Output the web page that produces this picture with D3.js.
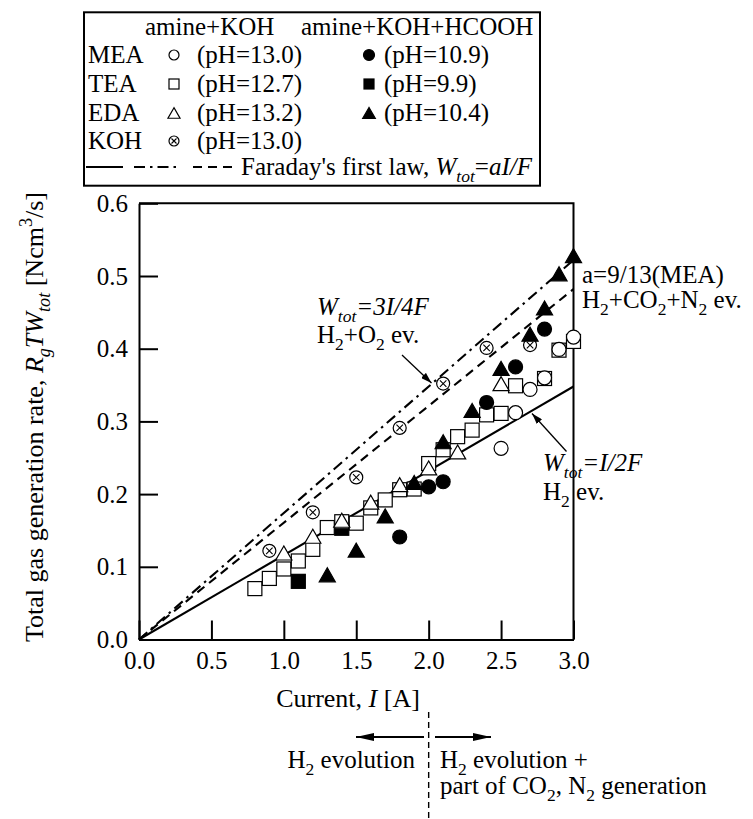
<!DOCTYPE html>
<html>
<head>
<meta charset="utf-8">
<script src="https://cdn.jsdelivr.net/npm/d3@7"></script>
<style>
  html, body { margin: 0; padding: 0; background: #fff; }
  svg text { font-family: "Liberation Serif", "Times New Roman", serif; fill: #000; }
</style>
</head>
<body>
<svg id="chart" width="753" height="819"></svg>
<script>
// Total gas generation rate R_g T W_tot [Ncm^3/s] against current I [A]

// amine + KOH
const meaKOH = [[2.5,0.263],[2.6,0.312],[2.7,0.344],[2.8,0.360],[2.9,0.399],[3.0,0.416]];
const teaKOH = [[0.8,0.070],[0.9,0.084],[1.0,0.097],[1.1,0.108],[1.2,0.124],[1.3,0.154],
                [1.4,0.162],[1.5,0.160],[1.6,0.181],[1.7,0.192],[1.8,0.206],[1.9,0.207],
                [2.0,0.242],[2.1,0.261],[2.2,0.279],[2.3,0.288],[2.4,0.309],[2.5,0.311],
                [2.6,0.349],[2.8,0.359],[2.9,0.398],[3.0,0.410]];
const edaKOH = [[1.0,0.119],[1.2,0.142],[1.4,0.164],[1.6,0.189],[1.8,0.213],[2.0,0.236],
                [2.2,0.258],[2.5,0.352]];
const kohOnly = [[0.9,0.122],[1.2,0.175],[1.5,0.223],[1.8,0.291],[2.1,0.352],[2.4,0.401],[2.7,0.405]];

// amine + KOH + HCOOH
const meaHCOOH = [[1.8,0.141],[2.0,0.210],[2.1,0.217],[2.4,0.326],[2.6,0.375],[2.8,0.427]];
const teaHCOOH = [[1.1,0.080],[1.4,0.153]];
const edaHCOOH = [[1.3,0.089],[1.5,0.123],[1.7,0.170],[1.9,0.216],[2.1,0.272],[2.3,0.315],
                  [2.5,0.373],[2.7,0.420],[2.8,0.456],[2.9,0.503],[3.0,0.528]];

// Faraday's first law lines: value reached at I = 3.0 A
const lawNames = ["I/2F", "9I/13F", "3I/4F"];
const lawEndValues = [0.348, 0.482, 0.522];
const lawDashes = [null, "9,6", "11,5,2.5,5"];

// Axis ticks
const xTicks = [0.0, 0.5, 1.0, 1.5, 2.0, 2.5, 3.0];
const yTicks = [0.0, 0.1, 0.2, 0.3, 0.4, 0.5, 0.6];

// Legend text
const legendHeaders = ["amine+KOH", "amine+KOH+HCOOH"];
const legendNames = ["MEA", "TEA", "EDA", "KOH"];
const legendPHOpen = ["(pH=13.0)", "(pH=12.7)", "(pH=13.2)", "(pH=13.0)"];
const legendPHFilled = ["(pH=10.9)", "(pH=9.9)", "(pH=10.4)", null];

const FS = 25;
const svg = d3.select("#chart");

const x = d3.scaleLinear().domain([0, 3]).range([139, 573.5]);
const y = d3.scaleLinear().domain([0, 0.6]).range([639.5, 203.3]);

// text with italic / subscript / superscript runs
function rich(sel, parts, fs) {
  let shift = 0;
  parts.forEach(p => {
    const ts = sel.append("tspan").text(p.t);
    const target = p.sub ? fs * 0.28 : (p.sup ? -fs * 0.42 : 0);
    if (target !== shift) { ts.attr("dy", target - shift); shift = target; }
    if (p.sub || p.sup) ts.attr("font-size", fs * 0.7);
    if (p.i) ts.attr("font-style", "italic");
  });
  return sel;
}

// marker shapes
function drawMark(g, type, cx, cy, s) {
  const sw = 1.2;
  if (type === "circle" || type === "circleF") {
    g.append("circle").attr("cx", cx).attr("cy", cy).attr("r", s / 2)
      .attr("fill", type === "circleF" ? "#000" : "#fff").attr("stroke", "#000").attr("stroke-width", sw);
  } else if (type === "square" || type === "squareF") {
    g.append("rect").attr("x", cx - s / 2).attr("y", cy - s / 2).attr("width", s).attr("height", s)
      .attr("fill", type === "squareF" ? "#000" : "#fff").attr("stroke", "#000").attr("stroke-width", sw);
  } else if (type === "tri" || type === "triF") {
    const w = s * 1.15, h = s;
    const pts = [[cx, cy - h / 2], [cx - w / 2, cy + h / 2], [cx + w / 2, cy + h / 2]];
    g.append("path").attr("d", "M" + pts.map(p => p.join(",")).join("L") + "Z")
      .attr("fill", type === "triF" ? "#000" : "#fff").attr("stroke", "#000").attr("stroke-width", sw)
      .attr("stroke-linejoin", "miter");
  } else if (type === "koh") {
    const r = s / 2;
    g.append("circle").attr("cx", cx).attr("cy", cy).attr("r", r)
      .attr("fill", "#fff").attr("stroke", "#000").attr("stroke-width", sw);
    const d = r * 0.5;
    g.append("path").attr("d", `M${cx - d},${cy - d}L${cx + d},${cy + d}M${cx - d},${cy + d}L${cx + d},${cy - d}`)
      .attr("stroke", "#000").attr("stroke-width", 1.1);
  }
}

// arrowheads
const defs = svg.append("defs");
defs.append("marker").attr("id", "ah").attr("viewBox", "0 0 11 7").attr("refX", 11).attr("refY", 3.5)
  .attr("markerWidth", 11).attr("markerHeight", 7).attr("orient", "auto").attr("markerUnits", "userSpaceOnUse")
  .append("path").attr("d", "M0,0L11,3.5L0,7Z").attr("fill", "#000");
defs.append("marker").attr("id", "ahBig").attr("viewBox", "0 0 18 8").attr("refX", 18).attr("refY", 4)
  .attr("markerWidth", 18).attr("markerHeight", 8).attr("orient", "auto").attr("markerUnits", "userSpaceOnUse")
  .append("path").attr("d", "M0,0L18,4L0,8Z").attr("fill", "#000");

// axes with inward ticks
const xAxis = svg.append("g").attr("transform", `translate(0,${y(0)})`)
  .call(d3.axisBottom(x).tickValues(xTicks).tickFormat(d3.format(".1f"))
    .tickSizeInner(-19).tickSizeOuter(0).tickPadding(12));
const yAxis = svg.append("g").attr("transform", `translate(${x(0)},0)`)
  .call(d3.axisLeft(y).tickValues(yTicks).tickFormat(d3.format(".1f"))
    .tickSizeInner(-19).tickSizeOuter(0).tickPadding(11));
[xAxis, yAxis].forEach(a => {
  a.attr("font-family", null).attr("font-size", null);
  a.selectAll("text").attr("font-size", FS).attr("fill", "#000");
  a.selectAll("line").attr("stroke", "#000").attr("stroke-width", 2);
  a.select(".domain").attr("stroke", "#000").attr("stroke-width", 2);
});

// frame top and right
svg.append("path")
  .attr("d", `M${x(0)},${y(0.6)}L${x(3)},${y(0.6)}L${x(3)},${y(0)}`)
  .attr("fill", "none").attr("stroke", "#000").attr("stroke-width", 2);

// Faraday law lines
const lineGen = d3.line().x(d => x(d[0])).y(d => y(d[1]));
lawEndValues.forEach((v, i) => {
  svg.append("path").datum([[0, 0], [3, v]])
    .attr("d", lineGen).attr("fill", "none").attr("stroke", "#000").attr("stroke-width", 2.1)
    .attr("stroke-dasharray", lawDashes[i]);
});

// data points
const marks = svg.append("g");
const series = [
  [teaHCOOH, "squareF", 14],
  [teaKOH, "square", 14],
  [edaKOH, "tri", 14],
  [meaKOH, "circle", 14],
  [kohOnly, "koh", 13],
  [edaHCOOH, "triF", 14],
  [meaHCOOH, "circleF", 14]
];
series.forEach(([data, type, s]) => {
  data.forEach(d => drawMark(marks, type, x(d[0]), y(d[1]), s));
});

// annotations on the law lines
const ann = svg.append("g").attr("font-size", FS);
rich(ann.append("text").attr("x", 317).attr("y", 315),
  [{t: "W", i: 1}, {t: "tot", i: 1, sub: 1}, {t: "=3I/4F", i: 1}], FS);
rich(ann.append("text").attr("x", 317).attr("y", 343),
  [{t: "H"}, {t: "2", sub: 1}, {t: "+O"}, {t: "2", sub: 1}, {t: " ev."}], FS);
svg.append("line").attr("x1", 402).attr("y1", 355).attr("x2", 431.5).attr("y2", 383)
  .attr("stroke", "#000").attr("stroke-width", 1.3).attr("marker-end", "url(#ah)");

rich(ann.append("text").attr("x", 582).attr("y", 283),
  [{t: "a=9/13(MEA)"}], FS);
rich(ann.append("text").attr("x", 582).attr("y", 308),
  [{t: "H"}, {t: "2", sub: 1}, {t: "+CO"}, {t: "2", sub: 1}, {t: "+N"}, {t: "2", sub: 1}, {t: " ev."}], FS);

rich(ann.append("text").attr("x", 543).attr("y", 471),
  [{t: "W", i: 1}, {t: "tot", i: 1, sub: 1}, {t: "=I/2F", i: 1}], FS);
rich(ann.append("text").attr("x", 543).attr("y", 500),
  [{t: "H"}, {t: "2", sub: 1}, {t: " ev."}], FS);
svg.append("line").attr("x1", 566.5).attr("y1", 451.5).attr("x2", 532).attr("y2", 413.5)
  .attr("stroke", "#000").attr("stroke-width", 1.3).attr("marker-end", "url(#ah)");

// axis titles
rich(svg.append("text").attr("x", 348).attr("y", 707).attr("text-anchor", "middle").attr("font-size", 26),
  [{t: "Current, "}, {t: "I", i: 1}, {t: " [A]"}], 26);
rich(svg.append("text").attr("transform", "translate(43,417) rotate(-90)").attr("text-anchor", "middle").attr("font-size", 26),
  [{t: "Total gas generation rate, "}, {t: "R", i: 1}, {t: "g", i: 1, sub: 1}, {t: "TW", i: 1},
   {t: "tot", i: 1, sub: 1}, {t: " [Ncm"}, {t: "3", sup: 1}, {t: "/s]"}], 26);

// regime note below the axis
svg.append("line").attr("x1", x(2)).attr("y1", 712).attr("x2", x(2)).attr("y2", 819)
  .attr("stroke", "#000").attr("stroke-width", 1.4).attr("stroke-dasharray", "6,4");
svg.append("line").attr("x1", 424).attr("y1", 737).attr("x2", 356).attr("y2", 737)
  .attr("stroke", "#000").attr("stroke-width", 2).attr("marker-end", "url(#ahBig)");
svg.append("line").attr("x1", 435).attr("y1", 737).attr("x2", 491).attr("y2", 737)
  .attr("stroke", "#000").attr("stroke-width", 2).attr("marker-end", "url(#ahBig)");
const note = svg.append("g").attr("font-size", FS);
rich(note.append("text").attr("x", 415).attr("y", 768).attr("text-anchor", "end"),
  [{t: "H"}, {t: "2", sub: 1}, {t: " evolution"}], FS);
rich(note.append("text").attr("x", 440).attr("y", 768),
  [{t: "H"}, {t: "2", sub: 1}, {t: " evolution +"}], FS);
rich(note.append("text").attr("x", 440).attr("y", 794),
  [{t: "part of CO"}, {t: "2", sub: 1}, {t: ", N"}, {t: "2", sub: 1}, {t: " generation"}], FS);

// legend
const lg = svg.append("g").attr("font-size", FS);
lg.append("rect").attr("x", 84).attr("y", 12.3).attr("width", 456).attr("height", 173.4)
  .attr("fill", "#fff").attr("stroke", "#000").attr("stroke-width", 2);
lg.append("text").attr("x", 145).attr("y", 35).text(legendHeaders[0]);
lg.append("text").attr("x", 301).attr("y", 35).text(legendHeaders[1]);
const openTypes = ["circle", "square", "tri", "koh"];
const filledTypes = ["circleF", "squareF", "triF", null];
const rowY = [63, 92, 121, 149];
legendNames.forEach((name, i) => {
  const by = rowY[i];
  lg.append("text").attr("x", 88).attr("y", by).text(name);
  drawMark(lg, openTypes[i], 174, by - 8, openTypes[i] === "tri" ? 10.5 : 10);
  lg.append("text").attr("x", 197).attr("y", by).text(legendPHOpen[i]);
  if (filledTypes[i]) {
    drawMark(lg, filledTypes[i], 369, by - 8, filledTypes[i] === "squareF" ? 10 : 11);
    lg.append("text").attr("x", 384).attr("y", by).text(legendPHFilled[i]);
  }
});
const lgLineY = 167;
[[86, 123], [193, 235], [134, 181]].forEach(([a, b], k) => {
  const dash = [null, lawDashes[1], lawDashes[2]][k];
  lg.append("line").attr("x1", a).attr("x2", b).attr("y1", lgLineY).attr("y2", lgLineY)
    .attr("stroke", "#000").attr("stroke-width", 2).attr("stroke-dasharray", dash);
});
rich(lg.append("text").attr("x", 241).attr("y", 175),
  [{t: "Faraday's first law, "}, {t: "W", i: 1}, {t: "tot", i: 1, sub: 1}, {t: "="}, {t: "aI/F", i: 1}], FS);
</script>
</body>
</html>
